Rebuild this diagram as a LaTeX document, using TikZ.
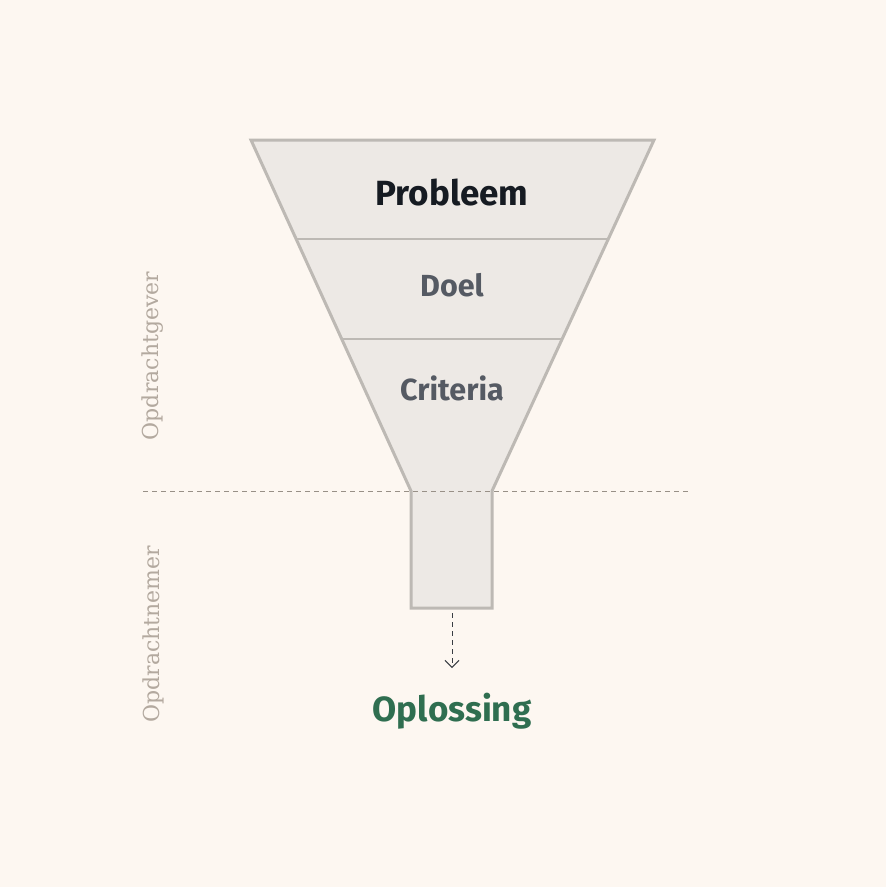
\documentclass[tikz,border=0pt]{standalone}
\usepackage{fontspec}
\setmainfont{DejaVu Serif}
\newfontfamily\labelfont{Fira Sans}
\usetikzlibrary{arrows.meta}

\definecolor{paper}{HTML}{FDF7F1}
\definecolor{funnelfill}{HTML}{EDE9E5}
\definecolor{funneledge}{HTML}{BDB9B4}
\definecolor{sidegray}{HTML}{B3A99F}
\definecolor{darkink}{HTML}{161B22}
\definecolor{midink}{HTML}{555A63}
\definecolor{greenink}{HTML}{2F6E50}

\tikzset{
	layer/.style={font=\labelfont\bfseries\fontsize{30.5}{34}\selectfont, text=midink, anchor=base},
	bigger/.style={font=\labelfont\bfseries\fontsize{35}{40}\selectfont},
	side/.style={font=\fontsize{22}{26}\selectfont, text=sidegray, rotate=90},
}

\begin{document}
\begin{tikzpicture}[x=1pt,y=-1pt]
	\fill[paper] (0,0) rectangle (886,887);
	\useasboundingbox (0,0) rectangle (886,887);
	
	% funnel
	\draw[funneledge, fill=funnelfill, line width=3pt, line join=miter]
		(251,140) -- (654,140) -- (492,491) -- (492,608) -- (411,608) -- (411,491) -- cycle;
	\draw[funneledge, line width=2pt] (297,239) -- (608,239);
	\draw[funneledge, line width=2pt] (343,339) -- (561,339);
	
	% split
	\coordinate (sl) at (143,491);
	\coordinate (sr) at (690,491);
	\draw[sidegray!85!black, line width=1pt, dash pattern=on 5pt off 4pt] (sl) -- (sr);
	
	\node[layer, bigger, text=darkink] (probleem) at (452,205) {Probleem};
	\node[layer] (doel) at (452,296) {Doel};
	\node[layer] (criteria) at (452,400) {Criteria};
	
	\coordinate (out) at (452,613);
	\coordinate (tip) at (452,668);
	\node[layer, bigger, text=greenink] (oplossing) at (452,721) {Oplossing};
	\draw[darkink!85, line width=1pt, dash pattern=on 5pt off 4pt, -{Straight Barb[length=7pt,width=14pt]}] (out) -- (tip);
	
	\node[side] (gever) at (153,356) {Opdrachtgever};
	\node[side] (nemer) at (153,634) {Opdrachtnemer};
\end{tikzpicture}
\end{document}
